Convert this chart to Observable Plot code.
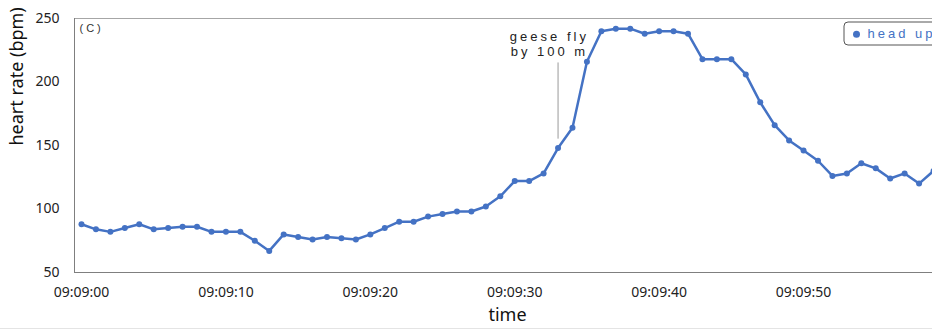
<!DOCTYPE html>
<html>
<head>
<meta charset="utf-8">
<script src="https://cdn.jsdelivr.net/npm/d3@7"></script>
<script src="https://cdn.jsdelivr.net/npm/@observablehq/plot@0.6"></script>
<style>
  html, body { margin: 0; padding: 0; background: white; overflow: hidden; }
  #chart svg { display: block; }
  #chart g[font-family*="Liberation"] text, #chart g[font-family*="Liberation"] tspan { letter-spacing: 3px; }
  .bottomline { height: 1px; background: #e4e4e4; }
</style>
</head>
<body>
<div id="chart"></div>
<div class="bottomline"></div>
<script>
// seconds after 09:09:00
const seconds = [0,1,2,3,4,5,6,7,8,9,10,11,12,13,14,15,16,17,18,19,20,21,22,23,24,25,26,27,28,29,
  30,31,32,33,34,35,36,37,38,39,40,41,42,43,44,45,46,47,48,49,50,51,52,53,54,55,56,57,58,59];
const heartRate = [88,84,82,85,88,84,85,86,86,82,82,82,75,67,80,78,76,78,77,76,
  80,85,90,90,94,96,98,98,102,110,122,122,128,148,164,216,240,242,242,238,
  240,240,238,218,218,218,206,184,166,154,146,138,126,128,136,132,124,128,120,130];
const xTicks = [0,10,20,30,40,50];
const xTickLabels = ["09:09:00","09:09:10","09:09:20","09:09:30","09:09:40","09:09:50"];
const yTicks = [50,100,150,200,250];
const seriesName = "head up";
const panelLabel = "(C)";
const annotationText = "geese fly\nby 100 m";
const annotationTime = 33;
const annotationRange = [155, 215];

const data = seconds.map((s, i) => ({t: s, hr: heartRate[i]}));
const blue = "#4472C4";

const chart = Plot.plot({
  width: 932,
  height: 328,
  marginLeft: 74,
  marginRight: 0,
  marginTop: 18,
  marginBottom: 56,
  style: {fontFamily: "'Noto Sans', sans-serif", fontSize: "14px", color: "#222", background: "white"},
  x: {domain: [-0.485, 58.93]},
  y: {domain: [50, 250]},
  marks: [
    Plot.axisX({ticks: xTicks, tickSize: 0, tickPadding: 15, fontSize: 14, fill: "#222",
      tickFormat: d => xTickLabels[xTicks.indexOf(d)], label: null}),
    Plot.axisY({ticks: yTicks, tickSize: 0, tickPadding: 15, fontSize: 14, fill: "#222", label: null}),
    Plot.frame({stroke: "#a6a6a6"}),
    Plot.ruleY([50], {stroke: "#7f7f7f"}),
    Plot.ruleX([-0.485], {stroke: "#7f7f7f"}),
    Plot.text(["time"], {frameAnchor: "bottom", dx: 4, dy: 43, fontSize: 18, fill: "#111", lineAnchor: "middle"}),
    Plot.text(["heart rate (bpm)"], {frameAnchor: "left", dx: -57, rotate: -90, fontSize: 18, fill: "#111", lineAnchor: "middle"}),
    Plot.line(data, {x: "t", y: "hr", stroke: blue, strokeWidth: 2.5}),
    Plot.dot(data, {x: "t", y: "hr", r: 3, fill: blue}),
    Plot.ruleX([annotationTime], {y1: annotationRange[0], y2: annotationRange[1], stroke: "#999", strokeWidth: 1}),
    Plot.text([annotationText], {x: annotationTime - 0.6, y: 240.7, lineAnchor: "top", textAnchor: "middle",
      fontFamily: "'Liberation Sans', Arial, sans-serif", fontSize: 13, fill: "#222", lineHeight: 1.15}),
    Plot.text([panelLabel], {frameAnchor: "top-left", dx: 5, dy: 10, lineAnchor: "middle", textAnchor: "start",
      fontFamily: "'Liberation Sans', Arial, sans-serif", fontSize: 11, fill: "#333"}),
    Plot.rect([seriesName], {insetLeft: 770, insetTop: 4, insetBottom: 227, insetRight: -20, rx: 4,
      fill: "white", stroke: "#555", strokeWidth: 1}),
    Plot.dot([seriesName], {frameAnchor: "top-right", dx: -76, dy: 15.7, r: 3.5, fill: blue}),
    Plot.text([seriesName], {frameAnchor: "top-right", dx: -65, dy: 15.5, textAnchor: "start", lineAnchor: "middle",
      fontFamily: "'Liberation Sans', Arial, sans-serif", fontSize: 13, fill: blue})
  ]
});
document.getElementById("chart").append(chart);
</script>
</body>
</html>
